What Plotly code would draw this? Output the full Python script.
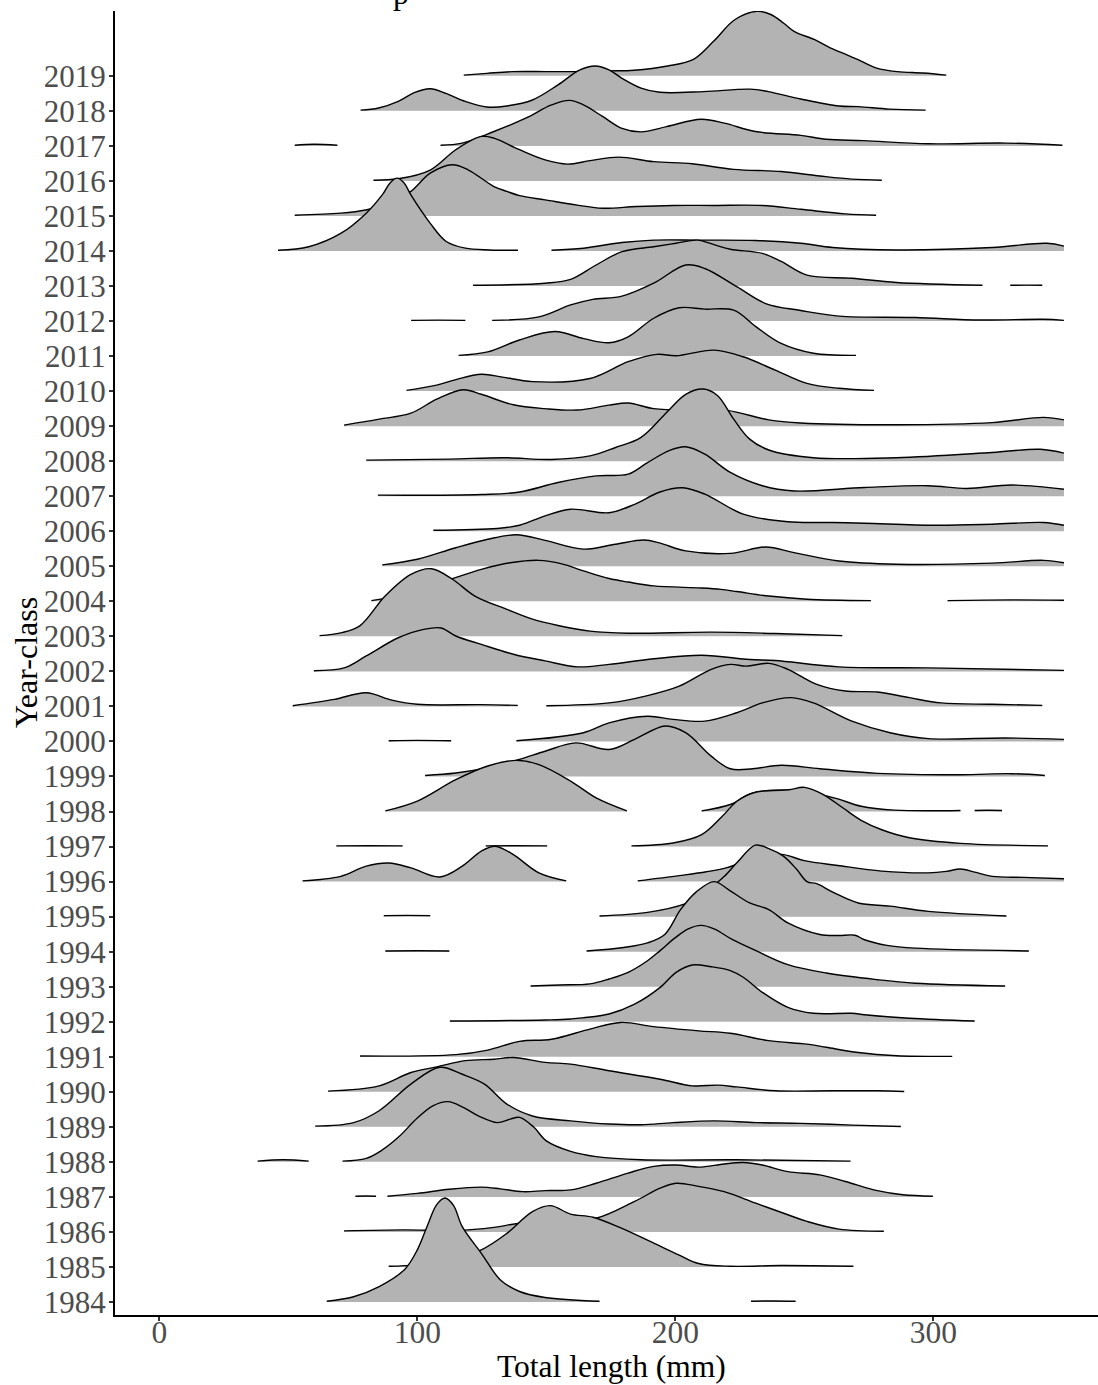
import plotly.graph_objects as go

# ---- data: density ridges (x in mm, height in row units) ----
year_classes = list(range(1984, 2020))
x_ticks = [0, 100, 200, 300]

r2019 = [[(118, 0.02), (127, 0.07), (137, 0.12), (150, 0.12), (161, 0.12), (174, 0.14), (184, 0.16), (197, 0.28), (207, 0.47), (215, 1.0), (223, 1.6), (231.6, 1.84), (237, 1.75), (242, 1.5), (246, 1.27), (254, 1.03), (260, 0.8), (266.5, 0.6), (272, 0.42), (278, 0.22), (286, 0.12), (296, 0.08), (305, 0.02)]]
r2018 = [[(78, 0.02), (85, 0.08), (92.6, 0.27), (98.8, 0.52), (105, 0.63), (111, 0.5), (118.6, 0.27), (127, 0.11), (134.7, 0.14), (144.6, 0.31), (154.5, 0.74), (163, 1.17), (169, 1.28), (174.3, 1.17), (179.3, 0.93), (186.7, 0.65), (194, 0.53), (211, 0.55), (229, 0.62), (236, 0.55), (248.6, 0.34), (263.4, 0.14), (271, 0.12), (283, 0.05), (297, 0.02)]]
r2017 = [[(52.5, 0.02), (60, 0.045), (69, 0.02)],
         [(109, 0.02), (117.4, 0.08), (129.7, 0.41), (142, 0.79), (152, 1.17), (159, 1.3), (164.4, 1.17), (171.8, 0.84), (179.3, 0.5), (186.7, 0.4), (196.6, 0.55), (210, 0.76), (219, 0.65), (231, 0.41), (248.6, 0.3), (258.5, 0.19), (273, 0.15), (298, 0.06), (328, 0.08), (350, 0.02)]]
r2016 = [[(83, 0.02), (92.6, 0.06), (105, 0.31), (114.9, 0.89), (124.8, 1.27), (129.7, 1.22), (139.6, 0.89), (149.5, 0.6), (158.2, 0.48), (167, 0.58), (178, 0.68), (191.6, 0.55), (206.5, 0.49), (222.6, 0.33), (241, 0.27), (256, 0.14), (268.4, 0.05), (280, 0.02)]]
r2015 = [[(52.5, 0.02), (70.3, 0.08), (80, 0.17), (90, 0.38), (97.5, 0.7), (105, 1.22), (113.6, 1.46), (119.8, 1.31), (129.7, 0.84), (134.7, 0.7), (139.6, 0.58), (149.5, 0.46), (162, 0.31), (171.8, 0.22), (185, 0.27), (199, 0.3), (215, 0.3), (233.7, 0.3), (248.6, 0.19), (265.9, 0.06), (277.8, 0.02)]]
r2014 = [[(46, 0.02), (57.9, 0.12), (70.3, 0.5), (80.2, 1.08), (86.4, 1.6), (89.5, 1.95), (92.1, 2.08), (94.8, 1.95), (97.5, 1.6), (105, 0.79), (111.2, 0.27), (118.6, 0.08), (128, 0.03), (139, 0.02)],
         [(152, 0.02), (164.4, 0.08), (179.3, 0.24), (191.6, 0.31), (209, 0.31), (231, 0.3), (248.6, 0.22), (261, 0.1), (285.7, 0.03), (322.8, 0.1), (343.9, 0.22), (350.6, 0.14)]]
r2013 = [[(121.6, 0.02), (149.5, 0.08), (159.4, 0.19), (169.3, 0.6), (179.3, 0.98), (191.6, 1.12), (200.3, 1.22), (208.5, 1.31), (215, 1.18), (221.3, 1.05), (233.7, 0.93), (241, 0.7), (251, 0.31), (268.4, 0.22), (285.7, 0.1), (319, 0.02)],
         [(329.8, 0.02), (336, 0.025), (342.2, 0.02)]]
r2012 = [[(97.6, 0.02), (108, 0.025), (118.6, 0.02)],
         [(129, 0.02), (147.1, 0.12), (159.4, 0.46), (168, 0.62), (179.3, 0.71), (191.6, 1.08), (204, 1.6), (211.4, 1.5), (223.8, 0.98), (235, 0.5), (248.6, 0.3), (263.4, 0.14), (293, 0.1), (318, 0.03), (342.6, 0.05), (350.6, 0.02)]]
r2011 = [[(116, 0.02), (127.3, 0.12), (139.6, 0.46), (153.3, 0.7), (164.4, 0.5), (174.3, 0.38), (181.7, 0.55), (191.6, 1.08), (201.5, 1.38), (211.4, 1.34), (222.6, 1.31), (231.2, 0.84), (241, 0.36), (253.5, 0.08), (270, 0.02)]]
r2010 = [[(95.8, 0.02), (107.5, 0.17), (115, 0.33), (124.8, 0.48), (133, 0.4), (144.6, 0.27), (166.9, 0.36), (181.7, 0.84), (192.9, 1.05), (200.3, 1.01), (215, 1.17), (226.3, 0.98), (238.7, 0.6), (251, 0.22), (263.4, 0.08), (277, 0.02)]]
r2009 = [[(71.6, 0.03), (85.2, 0.2), (97.5, 0.37), (107.5, 0.77), (117.8, 1.04), (124.8, 0.91), (137.2, 0.61), (149.5, 0.5), (162, 0.46), (174.3, 0.6), (181.7, 0.66), (191.6, 0.5), (206.5, 0.45), (220, 0.45), (236.2, 0.18), (248.6, 0.09), (285.7, 0.04), (322.8, 0.1), (342.7, 0.25), (350.6, 0.18)]]
r2008 = [[(80.2, 0.03), (112.4, 0.06), (133.4, 0.1), (152, 0.05), (166.9, 0.15), (176.8, 0.39), (186.7, 0.68), (196.6, 1.39), (204, 1.91), (210.9, 2.06), (216.4, 1.87), (222.6, 1.2), (228.8, 0.63), (236.2, 0.32), (253.5, 0.1), (285.7, 0.1), (322.8, 0.25), (341.4, 0.34), (350.6, 0.23)]]
r2007 = [[(84.7, 0.03), (124.8, 0.05), (139.6, 0.12), (154.5, 0.39), (169.3, 0.58), (181.7, 0.63), (189.2, 0.96), (197.8, 1.31), (204, 1.41), (211.4, 1.2), (221.3, 0.68), (233.7, 0.3), (246, 0.15), (273.3, 0.25), (298, 0.3), (313, 0.22), (330.3, 0.32), (350.6, 0.2)]]
r2006 = [[(106.2, 0.03), (131, 0.08), (139.6, 0.17), (149.5, 0.44), (159.4, 0.63), (174.3, 0.53), (184.2, 0.77), (194, 1.12), (202.8, 1.24), (211.4, 1.06), (226.3, 0.49), (243.6, 0.27), (261, 0.25), (273.3, 0.23), (300.6, 0.17), (322.8, 0.2), (342.7, 0.25), (350.6, 0.17)]]
r2005 = [[(86.4, 0.04), (100, 0.2), (114.9, 0.53), (127.3, 0.77), (138.4, 0.9), (149.5, 0.74), (164.4, 0.49), (176.8, 0.63), (187.9, 0.75), (194.1, 0.66), (204, 0.44), (221.3, 0.37), (235, 0.55), (246, 0.39), (263.4, 0.15), (285.7, 0.06), (322.8, 0.09), (342.7, 0.17), (350.6, 0.1)]]
r2004 = [[(82.2, 0.02), (95, 0.2), (105, 0.45), (113.6, 0.65), (124.8, 0.91), (136, 1.1), (147.1, 1.17), (156, 1.07), (164.4, 0.87), (174.3, 0.65), (181.7, 0.55), (191.6, 0.44), (210, 0.38), (217.6, 0.34), (223.8, 0.28), (236.2, 0.15), (251, 0.06), (275.8, 0.02)],
         [(305.5, 0.02), (330, 0.04), (350.6, 0.03)]]
r2003 = [[(62.1, 0.02), (70.3, 0.1), (77.7, 0.3), (87.6, 1.16), (97.5, 1.77), (105.5, 1.93), (113.6, 1.63), (122.3, 1.15), (134.7, 0.77), (144.6, 0.49), (154.5, 0.31), (166.9, 0.15), (181.7, 0.09), (213.9, 0.12), (238.7, 0.08), (264.7, 0.02)]]
r2002 = [[(59.9, 0.02), (71.6, 0.1), (80.2, 0.44), (92.6, 0.96), (102.5, 1.2), (109.2, 1.24), (114.9, 1.01), (124.8, 0.77), (137.2, 0.49), (149.5, 0.3), (162, 0.13), (174.3, 0.2), (191.6, 0.36), (210.2, 0.46), (228.8, 0.34), (238.7, 0.31), (263.4, 0.13), (298, 0.1), (350.6, 0.03)]]
r2001 = [[(51.7, 0.02), (67.8, 0.2), (80.2, 0.39), (90.1, 0.18), (100, 0.06), (124.8, 0.05), (138.9, 0.03)],
         [(150, 0.02), (174.3, 0.1), (189.2, 0.31), (201.5, 0.58), (213.9, 1.06), (221.3, 1.2), (227.5, 1.15), (236.2, 1.23), (243.6, 1.06), (254.8, 0.63), (265.9, 0.44), (278.3, 0.41), (290.7, 0.25), (303, 0.1), (322.8, 0.06), (342.2, 0.03)]]
r2000 = [[(88.9, 0.02), (100, 0.03), (113.1, 0.02)],
         [(138.4, 0.02), (164.4, 0.25), (174.3, 0.53), (189.2, 0.72), (199.1, 0.63), (211.4, 0.58), (223.8, 0.82), (233.7, 1.1), (244.9, 1.25), (253.5, 1.1), (268.4, 0.58), (283.2, 0.25), (298, 0.08), (327.8, 0.1), (350.6, 0.06)]]
r1999 = [[(103, 0.03), (114.9, 0.1), (127.3, 0.25), (139.6, 0.49), (149.5, 0.72), (161.4, 0.96), (174.3, 0.77), (184.2, 1.06), (196.1, 1.44), (204, 1.25), (213.9, 0.58), (221.3, 0.22), (230, 0.22), (241, 0.32), (256, 0.22), (278.3, 0.09), (310.5, 0.05), (330.3, 0.08), (343.2, 0.03)]]
r1998 = [[(87.6, 0.02), (100, 0.3), (114.9, 0.91), (127.3, 1.3), (138.4, 1.46), (147.1, 1.34), (159.4, 0.87), (169.3, 0.39), (181.2, 0.02)],
         [(210.2, 0.02), (221.3, 0.2), (229, 0.5), (236, 0.6), (241, 0.61), (246, 0.6), (255, 0.5), (263, 0.36), (272, 0.15), (285, 0.04), (310.5, 0.03)],
         [(316, 0.03), (321, 0.035), (326.6, 0.03)]]
r1997 = [[(68.6, 0.02), (81, 0.025), (94.3, 0.02)],
         [(126.5, 0.02), (138, 0.025), (150.3, 0.02)],
         [(183, 0.02), (199.1, 0.1), (210.2, 0.34), (218, 0.85), (224, 1.3), (231, 1.55), (238, 1.6), (244, 1.62), (250, 1.69), (257, 1.5), (265, 1.1), (272, 0.75), (280, 0.48), (290.7, 0.25), (310.5, 0.09), (344.4, 0.02)]]
r1996 = [[(55.5, 0.02), (70.3, 0.15), (80.2, 0.44), (88.9, 0.53), (97.5, 0.39), (108.7, 0.13), (117.4, 0.44), (124.8, 0.87), (130.2, 1.01), (137.2, 0.77), (147.1, 0.25), (157.7, 0.02)],
         [(185.4, 0.02), (201.5, 0.17), (212, 0.28), (220, 0.4), (228, 0.6), (236, 0.78), (242, 0.77), (250, 0.6), (263, 0.46), (280, 0.3), (298, 0.25), (305, 0.29), (310.5, 0.36), (316, 0.27), (322.8, 0.15), (335, 0.12), (350.6, 0.08)]]
r1995 = [[(87, 0.03), (96, 0.035), (105, 0.03)],
         [(170.6, 0.02), (189.2, 0.12), (204, 0.37), (210, 0.6), (215, 0.9), (219, 1.15), (224, 1.55), (231, 2.04), (236, 1.95), (242, 1.72), (247, 1.35), (251, 1.0), (254.8, 0.94), (261, 0.7), (270.9, 0.39), (283.2, 0.3), (298, 0.15), (328.3, 0.02)]]
r1994 = [[(87.6, 0.02), (100, 0.025), (112.4, 0.02)],
         [(165.6, 0.02), (180, 0.12), (189.2, 0.25), (196, 0.5), (202, 1.2), (208, 1.7), (215, 2.0), (221, 1.75), (228.8, 1.39), (236.2, 1.2), (243.6, 0.82), (256, 0.49), (263, 0.46), (269.6, 0.47), (273.3, 0.34), (282, 0.18), (293, 0.1), (337, 0.02)]]
r1993 = [[(143.9, 0.02), (155, 0.05), (166.9, 0.08), (174.3, 0.22), (181.7, 0.41), (189.2, 0.74), (194.1, 1.03), (200, 1.4), (205, 1.65), (210, 1.75), (215, 1.65), (222, 1.35), (231.2, 1.03), (243.6, 0.63), (258.5, 0.39), (278.3, 0.2), (293, 0.1), (327.8, 0.02)]]
r1992 = [[(112.6, 0.02), (149.5, 0.05), (159.4, 0.08), (174.3, 0.22), (184.2, 0.5), (194.1, 0.98), (200.3, 1.41), (206.5, 1.62), (213.9, 1.57), (221.3, 1.46), (226.3, 1.27), (233.7, 0.84), (243.6, 0.41), (253.5, 0.24), (268.4, 0.24), (273.3, 0.2), (290.7, 0.1), (316, 0.02)]]
r1991 = [[(77.8, 0.02), (114.9, 0.06), (127.3, 0.19), (139.6, 0.44), (152, 0.5), (166.9, 0.79), (178.8, 0.98), (191.6, 0.86), (209, 0.74), (221.3, 0.67), (236.2, 0.46), (251, 0.36), (258.5, 0.27), (270.9, 0.12), (285.7, 0.03), (307.3, 0.01)]]
r1990 = [[(65.4, 0.02), (85.2, 0.17), (97.5, 0.55), (107.5, 0.71), (118.6, 0.89), (129.7, 0.93), (137.2, 0.98), (149.5, 0.84), (159.4, 0.79), (174.3, 0.6), (194.1, 0.36), (206.5, 0.17), (216.4, 0.19), (223.8, 0.14), (238.7, 0.03), (261, 0.03), (278.3, 0.03), (288.7, 0.01)]]
r1989 = [[(60.4, 0.02), (75.3, 0.12), (85.2, 0.46), (97.5, 1.22), (108.7, 1.7), (117.4, 1.5), (126, 1.22), (134.7, 0.65), (144.6, 0.31), (159.4, 0.17), (174.3, 0.08), (186.7, 0.06), (199.1, 0.12), (215.2, 0.17), (231.2, 0.12), (248.6, 0.1), (268.4, 0.05), (287.4, 0.01)]]
r1988 = [[(38.1, 0.02), (48, 0.06), (57.9, 0.02)],
         [(71, 0.02), (80.2, 0.1), (86.4, 0.34), (92.6, 0.7), (100, 1.25), (106, 1.6), (111.9, 1.72), (118, 1.55), (124, 1.3), (131, 1.12), (136, 1.22), (139.6, 1.27), (145, 1.0), (150, 0.6), (159.4, 0.3), (169.3, 0.15), (186.7, 0.06), (223.8, 0.06), (267.9, 0.02)]]
r1987 = [[(76, 0.02), (80, 0.025), (84, 0.02)],
         [(88.4, 0.02), (100, 0.1), (112.4, 0.22), (124.8, 0.28), (132.2, 0.23), (140.9, 0.15), (149.5, 0.18), (159.4, 0.2), (169.3, 0.39), (181.7, 0.68), (191.6, 0.87), (200.3, 0.91), (209, 0.85), (218.9, 0.94), (226.3, 0.98), (233.7, 0.91), (243.6, 0.72), (256, 0.63), (265.9, 0.44), (278.3, 0.18), (288.2, 0.06), (299.8, 0.02)]]
r1986 = [[(71.6, 0.03), (95.1, 0.06), (114.9, 0.04), (129.7, 0.13), (139.6, 0.25), (155, 0.32), (169.3, 0.39), (184.2, 0.87), (194.1, 1.25), (200.3, 1.39), (209, 1.3), (218.9, 1.15), (231.2, 0.82), (243.6, 0.49), (251, 0.3), (263.4, 0.08), (280.8, 0.02)]]
r1985 = [[(88.9, 0.02), (100, 0.06), (112, 0.2), (124.8, 0.49), (134.7, 0.96), (144.6, 1.58), (151.5, 1.75), (159.4, 1.51), (168.1, 1.42), (179.3, 1.1), (191.6, 0.68), (201.5, 0.34), (209, 0.1), (221.3, 0.02), (241, 0.04), (269, 0.02)]]
r1984 = [[(64.9, 0.02), (75.3, 0.15), (85.2, 0.44), (95.1, 0.93), (100, 1.49), (104, 2.2), (107.5, 2.78), (110.7, 2.97), (114, 2.76), (117.4, 2.15), (124.8, 1.39), (132.2, 0.63), (139.6, 0.3), (149.5, 0.13), (170.6, 0.02)],
         [(229.3, 0.02), (238, 0.03), (246.6, 0.02)]]

ridges = [r1984, r1985, r1986, r1987, r1988, r1989, r1990, r1991, r1992, r1993,
          r1994, r1995, r1996, r1997, r1998, r1999, r2000, r2001, r2002, r2003,
          r2004, r2005, r2006, r2007, r2008, r2009, r2010, r2011, r2012, r2013,
          r2014, r2015, r2016, r2017, r2018, r2019]

# ---- styling ----
FILL = "#b3b3b3"
SERIF = "Liberation Serif"
TICK_COLOR = "#4d4d4d"

fig = go.Figure()

# draw from the top row down so lower ridges overlap upper ones
for idx in reversed(range(len(year_classes))):
    base = idx
    for seg in ridges[idx]:
        xs = [p[0] for p in seg]
        ys = [base + p[1] for p in seg]
        fig.add_trace(go.Scatter(x=[xs[0], xs[-1]], y=[base, base], mode="lines",
                                 line=dict(width=0, color="rgba(0,0,0,0)"),
                                 hoverinfo="skip", showlegend=False))
        fig.add_trace(go.Scatter(x=xs, y=ys, mode="lines",
                                 line=dict(color="black", width=1.4, shape="spline", smoothing=1.0),
                                 fill="tonexty", fillcolor=FILL,
                                 hoverinfo="skip", showlegend=False))

axis_common = dict(showgrid=False, zeroline=False, showline=True, linecolor="black", linewidth=2,
                   ticks="outside", ticklen=4, tickwidth=1.5, tickcolor="#333333",
                   automargin=False)

fig.update_layout(
    template="none",
    width=1098, height=1385,
    margin=dict(l=115, r=0, t=11, b=70, pad=0),
    paper_bgcolor="white", plot_bgcolor="white",
    showlegend=False,
    xaxis=dict(range=[-17.18, 363.8], tickvals=x_ticks, ticktext=[str(v) for v in x_ticks],
               ticklabelstandoff=-16, tickfont=dict(family=SERIF, size=31.5, color=TICK_COLOR),
               **axis_common),
    yaxis=dict(range=[-0.371, 36.85], tickvals=list(range(len(year_classes))),
               ticktext=[str(y) for y in year_classes], ticklabelstandoff=-3,
               tickfont=dict(family=SERIF, size=31, color=TICK_COLOR), **axis_common),
    annotations=[
        dict(text="Total length (mm)", xref="paper", yref="paper", x=0.5046, y=-0.0395,
             xanchor="center", yanchor="middle", showarrow=False,
             font=dict(family=SERIF, size=31.5, color="black")),
        dict(text="Year-class", xref="paper", yref="paper", x=-0.0905, y=0.5,
             xanchor="center", yanchor="middle", textangle=-90, showarrow=False,
             font=dict(family=SERIF, size=32, color="black")),
        dict(text="p", xref="paper", yref="paper", x=0.291, y=1.0137,
             xanchor="center", yanchor="middle", showarrow=False,
             font=dict(family=SERIF, size=32, color="black")),
    ],
)

fig.write_html("out.html", config={"displayModeBar": False},
               post_script="document.body.style.margin='0px';")
